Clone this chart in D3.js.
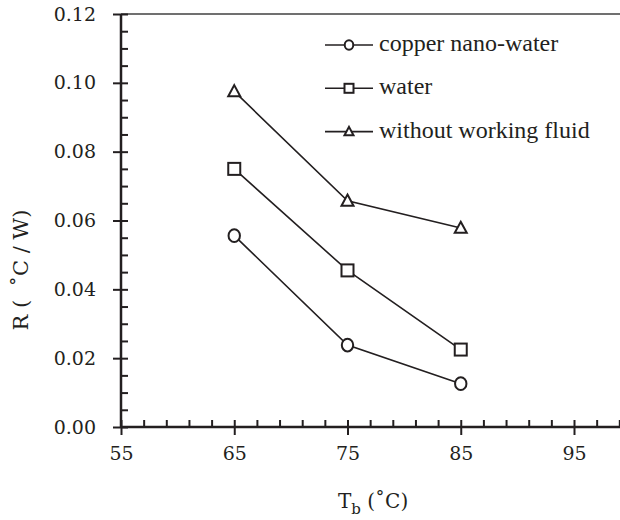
<!DOCTYPE html>
<html>
<head>
<meta charset="utf-8">
<script src="https://cdnjs.cloudflare.com/ajax/libs/d3/7.8.5/d3.min.js"></script>
<style>
    body { margin: 0; background: #fff; }
    .axis text { font-family: "DejaVu Serif", serif; font-size: 19px; fill: #231f20; }
    .axis line { stroke: #231f20; stroke-width: 2; }
    .axis path { display: none; }
    .axis-label { font-family: "DejaVu Serif", serif; font-size: 20px; fill: #231f20; }
    .legend-label { font-family: "Liberation Serif", "Times New Roman", Times, serif; font-size: 24px; fill: #231f20; }
</style>
</head>
<body>
<div id="chart-area"></div>
<script>

// Data
var temperatures = [65, 75, 85];
var copperNanoWater = [0.0556, 0.0238, 0.0126];
var water = [0.0750, 0.0455, 0.0225];
var withoutFluid = [0.0975, 0.0657, 0.0578];

var seriesNames = ["copper nano-water", "water", "without working fluid"];
var seriesValues = [copperNanoWater, water, withoutFluid];
var seriesMarkers = ["circle", "square", "triangle"];

var yTicks = [0.00, 0.02, 0.04, 0.06, 0.08, 0.10, 0.12];
var xTicks = [55, 65, 75, 85, 95];

ResistanceChart = function(_parentElement) {
    this.parentElement = _parentElement;
    this.initVisualization();
}

ResistanceChart.prototype.initVisualization = function() {
    var vis = this;

    vis.margin = { top: 14, right: 0, bottom: 93, left: 121 };
    vis.width = 620 - vis.margin.left - vis.margin.right;
    vis.height = 520 - vis.margin.top - vis.margin.bottom;

    vis.svg = d3.select('#' + vis.parentElement)
        .append('svg')
        .attr('width', 620)
        .attr('height', 520)
        .append('g')
        .attr('transform', 'translate(' + vis.margin.left + ',' + vis.margin.top + ')');

    // Scales (x axis runs off the right edge)
    vis.x = d3.scaleLinear().domain([55, 95]).range([0, 453]);
    vis.y = d3.scaleLinear().domain([0, 0.12]).range([vis.height, 0]);

    // Top frame line
    vis.svg.append('line')
        .attr('x1', 0).attr('x2', vis.width)
        .attr('y1', 0).attr('y2', 0)
        .attr('stroke', '#707070')
        .attr('stroke-width', 2);

    // Major ticks + labels outside, all ticks inside
    vis.svg.append('g')
        .attr('class', 'y-axis axis')
        .call(d3.axisLeft(vis.y).tickValues(yTicks).tickSize(8).tickPadding(17)
            .tickFormat(d3.format('.2f')));

    vis.svg.append('g')
        .attr('class', 'y-axis axis')
        .call(d3.axisRight(vis.y).tickValues(d3.range(0, 0.1201, 0.005)).tickSize(7).tickFormat(''));

    vis.svg.append('g')
        .attr('class', 'x-axis axis')
        .attr('transform', 'translate(0,' + vis.height + ')')
        .call(d3.axisBottom(vis.x).tickValues(xTicks).tickSize(8).tickPadding(12));

    vis.svg.append('g')
        .attr('class', 'x-axis axis')
        .attr('transform', 'translate(0,' + vis.height + ')')
        .call(d3.axisTop(vis.x).tickValues(d3.range(55, 100, 2)).tickSize(7).tickFormat(''));

    // Axis lines
    vis.svg.append('line')
        .attr('x1', 0).attr('x2', 0)
        .attr('y1', 0).attr('y2', vis.height)
        .attr('stroke', '#231f20').attr('stroke-width', 2.5);

    vis.svg.append('line')
        .attr('x1', 0).attr('x2', vis.width)
        .attr('y1', vis.height).attr('y2', vis.height)
        .attr('stroke', '#231f20').attr('stroke-width', 2.5);

    // Axis labels
    var xLabel = vis.svg.append('text')
        .attr('class', 'axis-label')
        .attr('x', 217)
        .attr('y', vis.height + 81);
    xLabel.append('tspan').text('T');
    xLabel.append('tspan').attr('dy', 6).attr('font-size', 15).text('b');
    xLabel.append('tspan').attr('dy', -6).text(' (\u02DAC)');

    vis.svg.append('text')
        .attr('class', 'axis-label')
        .attr('transform', 'rotate(-90)')
        .attr('x', -256)
        .attr('y', -93)
        .attr('text-anchor', 'middle')
        .style('font-size', '21px')
        .style('white-space', 'pre')
        .text('R (  \u02DAC / W)');

    vis.updateVisualization();
}

ResistanceChart.prototype.drawMarker = function(g, type, cx, cy, s) {
    if (type === 'circle') {
        g.append('ellipse')
            .attr('cx', cx).attr('cy', cy)
            .attr('rx', s * 0.95).attr('ry', s * 1.05);
    } else if (type === 'square') {
        g.append('rect')
            .attr('x', cx - s).attr('y', cy - s)
            .attr('width', 2 * s).attr('height', 2 * s);
    } else {
        g.append('path')
            .attr('d', 'M' + cx + ',' + (cy - s * 1.05) + 'L' + (cx + s) + ',' + (cy + s * 0.8) +
                'L' + (cx - s) + ',' + (cy + s * 0.8) + 'Z');
    }
}

ResistanceChart.prototype.updateVisualization = function() {
    var vis = this;

    var line = d3.line()
        .x(function(d) { return vis.x(d[0]); })
        .y(function(d) { return vis.y(d[1]); });

    seriesValues.forEach(function(values, i) {
        var points = temperatures.map(function(t, j) { return [t, values[j]]; });

        vis.svg.append('path')
            .datum(points)
            .attr('fill', 'none')
            .attr('stroke', '#231f20')
            .attr('stroke-width', 1.6)
            .attr('d', line);

        var marks = vis.svg.append('g')
            .attr('fill', '#fff')
            .attr('stroke', '#231f20')
            .attr('stroke-width', 2);

        points.forEach(function(p) {
            vis.drawMarker(marks, seriesMarkers[i], vis.x(p[0]), vis.y(p[1]), 6);
        });
    });

    // Legend
    var legend = vis.svg.append('g')
        .attr('transform', 'translate(204,31)');

    seriesNames.forEach(function(name, i) {
        var row = legend.append('g')
            .attr('transform', 'translate(0,' + (i * 43.3) + ')');

        row.append('line')
            .attr('x1', 0).attr('x2', 48)
            .attr('stroke', '#231f20')
            .attr('stroke-width', 1.6);

        var mark = row.append('g')
            .attr('fill', '#fff')
            .attr('stroke', '#231f20')
            .attr('stroke-width', 2);
        vis.drawMarker(mark, seriesMarkers[i], 24, 0, 4.5);

        row.append('text')
            .attr('class', 'legend-label')
            .attr('x', 54)
            .attr('y', 6)
            .text(name);
    });
}

new ResistanceChart('chart-area');

</script>
</body>
</html>
